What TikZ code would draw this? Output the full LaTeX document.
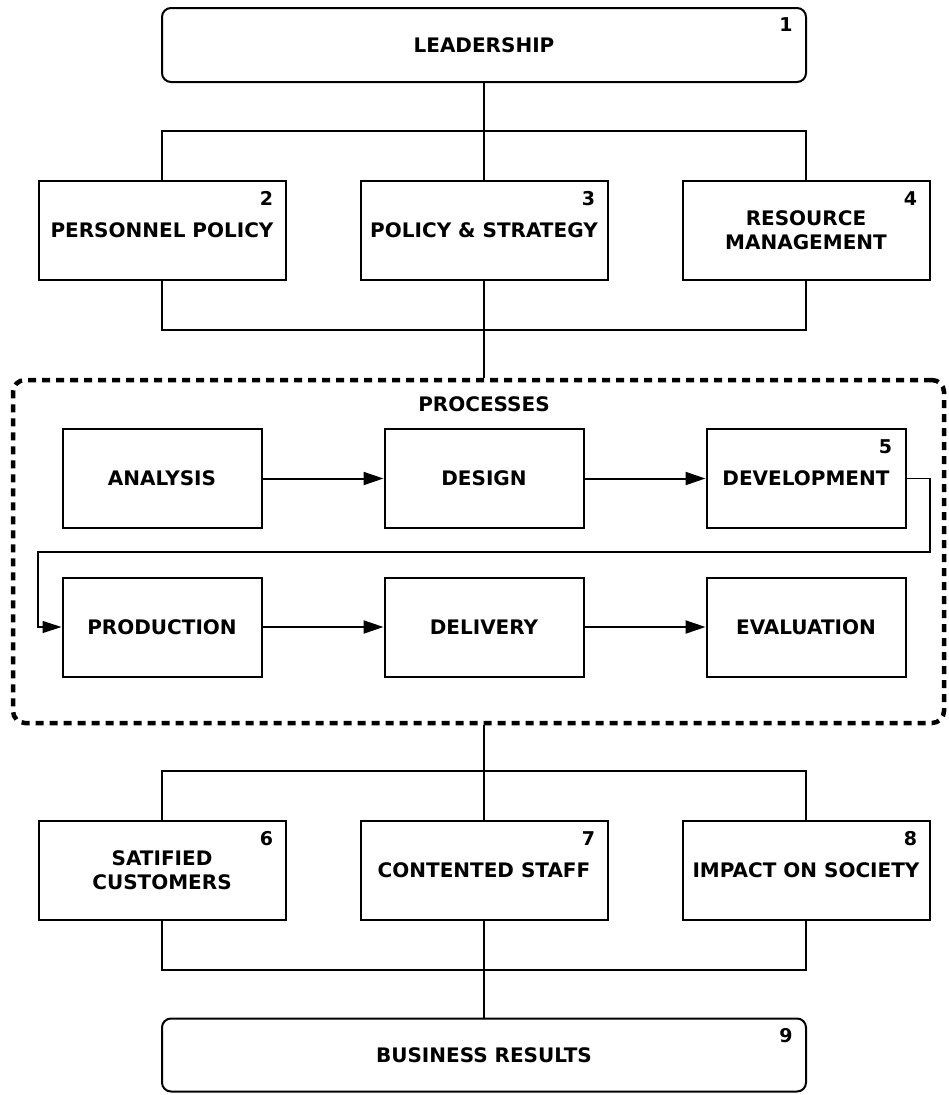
\documentclass[tikz,border=0pt]{standalone}
\usepackage{fontspec}
\setmainfont{DejaVu Sans}
\usetikzlibrary{arrows.meta,calc}
\begin{document}
\begin{tikzpicture}[x=1pt,y=-1pt,
  box/.style={draw,line width=2pt,minimum width=247pt,minimum height=99pt,inner sep=0pt,
    font=\bfseries\fontsize{20}{24}\selectfont,align=center},
  pbox/.style={box,minimum width=199pt},
  rbox/.style={box,rounded corners=9pt,minimum width=644pt,minimum height=74pt},
  num/.style={font=\bfseries\fontsize{19}{22}\selectfont,inner sep=0pt},
  conn/.style={line width=2pt},
  arr/.style={line width=2pt,-{Triangle[length=20pt,width=13pt]}},
  thinarr/.style={line width=1.2pt,-{Triangle[length=19pt,width=12pt]}},
  group/.style={draw,line width=4.5pt,dash pattern=on 8pt off 6pt,rounded corners=12pt,
    minimum width=931pt,minimum height=343pt,inner sep=0pt}
]
\useasboundingbox (0,0) rectangle (948,1095);

% top
\node[rbox] (lead) at (484,45) {LEADERSHIP};
\node[num] (n1) at ($(lead.north east)+(-21,18)$) {1};

\node[box] (pers) at (162,230) {PERSONNEL POLICY};
\node[box] (pol) at (484,230) {POLICY \& STRATEGY};
\node[box] (res) at (806,230) {RESOURCE\\MANAGEMENT};
\node[num] (n2) at ($(pers.north east)+(-20,19)$) {2};
\node[num] (n3) at ($(pol.north east)+(-20,19)$) {3};
\node[num] (n4) at ($(res.north east)+(-20,19)$) {4};

% processes
\node[group] (proc) at (478.5,551.5) {};
\node[font=\bfseries\fontsize{20}{24}\selectfont,inner sep=0pt] (plabel) at (484,404) {PROCESSES};

\node[pbox] (ana) at (162,478.5) {ANALYSIS};
\node[pbox] (des) at (484,478.5) {DESIGN};
\node[pbox] (dev) at (806,478.5) {DEVELOPMENT};
\node[num] (n5) at ($(dev.north east)+(-21,19)$) {5};
\node[pbox] (prod) at (162,627) {PRODUCTION};
\node[pbox] (deliv) at (484,627) {DELIVERY};
\node[pbox] (eval) at (806,627) {EVALUATION};

% results
\node[box] (sat) at (162,870) {SATIFIED\\CUSTOMERS};
\node[box] (cont) at (484,870) {CONTENTED STAFF};
\node[box] (imp) at (806,870) {IMPACT ON SOCIETY};
\node[num] (n6) at ($(sat.north east)+(-20,19)$) {6};
\node[num] (n7) at ($(cont.north east)+(-20,19)$) {7};
\node[num] (n8) at ($(imp.north east)+(-20,19)$) {8};

\node[rbox,minimum height=73pt] (bus) at (484,1055) {BUSINESS RESULTS};
\node[num] (n9) at ($(bus.north east)+(-21,18)$) {9};

% connectors top
\draw[conn] (lead.south) -- (lead.south |- pol.north);
\draw[conn] (pers.north) -- ++(0,-49) -| (res.north);
\draw[conn] (pers.south) -- ++(0,49) -| (res.south);
\draw[conn] (pol.south) -- (pol.south |- proc.north);

% process arrows
\draw[arr] (ana.east) -- (des.west);
\draw[arr] (des.east) -- (dev.west);
\draw[arr] (prod.east) -- (deliv.west);
\draw[arr] (deliv.east) -- (eval.west);
\coordinate (tr) at (930,552);
\coordinate (tl) at (38,552);
\draw[thinarr] (dev.east) -| (tr) -- (tl) |- (prod.west);

% connectors bottom
\draw[conn] (proc.south -| cont.north) -- (cont.north);
\draw[conn] (sat.north) -- ++(0,-49) -| (imp.north);
\draw[conn] (sat.south) -- ++(0,49) -| (imp.south);
\draw[conn] (cont.south) -- (bus.north);
\end{tikzpicture}
\end{document}
